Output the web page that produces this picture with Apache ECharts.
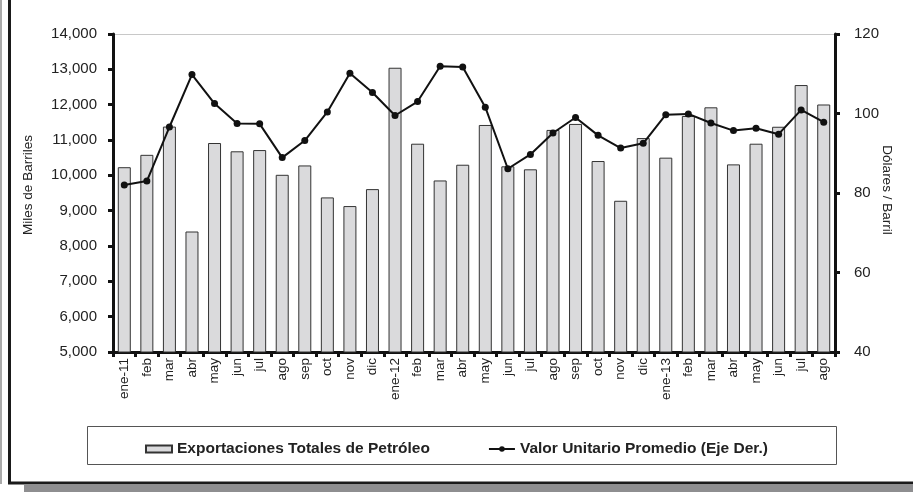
<!DOCTYPE html>
<html>
<head>
<meta charset="utf-8">
<script src="https://cdn.jsdelivr.net/npm/echarts@6/dist/echarts.min.js"></script>
<style>
html,body{margin:0;padding:0;background:#fff;}
#c{width:913px;height:492px;}
</style>
</head>
<body>
<div id="c"></div>
<script>
var categories = ['ene-11','feb','mar','abr','may','jun','jul','ago','sep','oct','nov','dic',
  'ene-12','feb','mar','abr','may','jun','jul','ago','sep','oct','nov','dic',
  'ene-13','feb','mar','abr','may','jun','jul','ago'];
var exportaciones = [10230,10580,11380,8410,10915,10680,10715,10015,10280,9375,9130,9610,
  13045,10895,9855,10300,11425,10255,10170,11285,11455,10405,9280,11055,
  10500,11680,11925,10310,10895,11375,12555,12005];
var valorUnitario = [82.0,83.0,96.6,109.8,102.5,97.5,97.4,88.9,93.2,100.4,110.1,105.3,
  99.5,103.0,111.9,111.7,101.6,86.1,89.7,95.1,99.0,94.5,91.3,92.5,
  99.7,99.9,97.6,95.7,96.3,94.8,100.9,97.8];
var leftTicks = {min:5000, max:14000, interval:1000};
var rightTicks = {min:40, max:120, interval:20};
var seriesNames = ['Exportaciones Totales de Petróleo','Valor Unitario Promedio (Eje Der.)'];

var font = 'Liberation Sans, Arial, sans-serif';
var chart = echarts.init(document.getElementById('c'), null, {renderer:'canvas'});
var splitColors = [];
for (var v = leftTicks.min; v <= leftTicks.max; v += leftTicks.interval) {
  splitColors.push(v === leftTicks.max ? '#c8c8c8' : 'rgba(0,0,0,0)');
}
chart.setOption({
  animation:false,
  backgroundColor:'#fff',
  textStyle:{fontFamily:font},
  grid:{left:113, right:78, top:34, bottom:140, containLabel:false},
  legend:{
    left:'center', top:436, itemGap:58, itemWidth:26, itemHeight:7,
    textStyle:{fontFamily:font, fontSize:15.5, fontWeight:'bold', color:'#222'},
    data:[{name:seriesNames[0], icon:'rect'}, {name:seriesNames[1]}]
  },
  xAxis:{
    type:'category', data:categories, boundaryGap:true,
    axisLine:{lineStyle:{color:'#111', width:3}},
    axisTick:{show:true, length:5, lineStyle:{color:'#111', width:3}},
    axisLabel:{rotate:90, fontSize:13.5, color:'#222', margin:6, interval:0, fontFamily:font},
    splitLine:{show:false}
  },
  yAxis:[{
    type:'value', min:leftTicks.min, max:leftTicks.max, interval:leftTicks.interval,
    name:'Miles de Barriles', nameLocation:'middle', nameGap:78, nameRotate:90,
    nameMoveOverlap:false,
    nameTextStyle:{fontSize:13.5, color:'#222', fontFamily:font, padding:[0,0,0,16]},
    axisLine:{show:true, lineStyle:{color:'#111', width:3}},
    axisTick:{show:true, length:5, lineStyle:{color:'#111', width:3}},
    axisLabel:{fontSize:15, color:'#222', margin:16, fontFamily:font,
      formatter:function(v){return v.toLocaleString('en-US');}},
    splitLine:{show:true, lineStyle:{color:splitColors, width:1}}
  },{
    type:'value', position:'right', min:rightTicks.min, max:rightTicks.max, interval:rightTicks.interval,
    name:'Dólares / Barril', nameLocation:'middle', nameGap:45, nameRotate:-90,
    nameMoveOverlap:false,
    nameTextStyle:{fontSize:13.5, color:'#222', fontFamily:font, padding:[0,6,0,0]},
    axisLine:{show:true, lineStyle:{color:'#111', width:3}},
    axisTick:{show:true, length:5, lineStyle:{color:'#111', width:3}},
    axisLabel:{fontSize:15, color:'#222', margin:19, fontFamily:font},
    splitLine:{show:false}
  }],
  series:[{
    name:seriesNames[0], type:'bar', yAxisIndex:0, data:exportaciones, barWidth:13,
    itemStyle:{color:'#dadadc', borderColor:'#333', borderWidth:1}
  },{
    name:seriesNames[1], type:'line', yAxisIndex:1, data:valorUnitario,
    symbol:'circle', symbolSize:7,
    lineStyle:{color:'#111', width:2}, itemStyle:{color:'#111'}
  }],
  graphic:[
    {type:'rect', shape:{x:87.5, y:426.5, width:749, height:38}, style:{fill:'none', stroke:'#555', lineWidth:1}, z:-1},
    {type:'rect', shape:{x:0, y:0, width:2, height:484}, style:{fill:'#aaaaaa'}},
    {type:'rect', shape:{x:8, y:0, width:3, height:484}, style:{fill:'#1a1a1a'}},
    {type:'rect', shape:{x:8, y:481.5, width:905, height:3}, style:{fill:'#1a1a1a'}},
    {type:'rect', shape:{x:24, y:484.5, width:889, height:8}, style:{fill:'#8e8e90'}}
  ]
});
</script>
</body>
</html>
